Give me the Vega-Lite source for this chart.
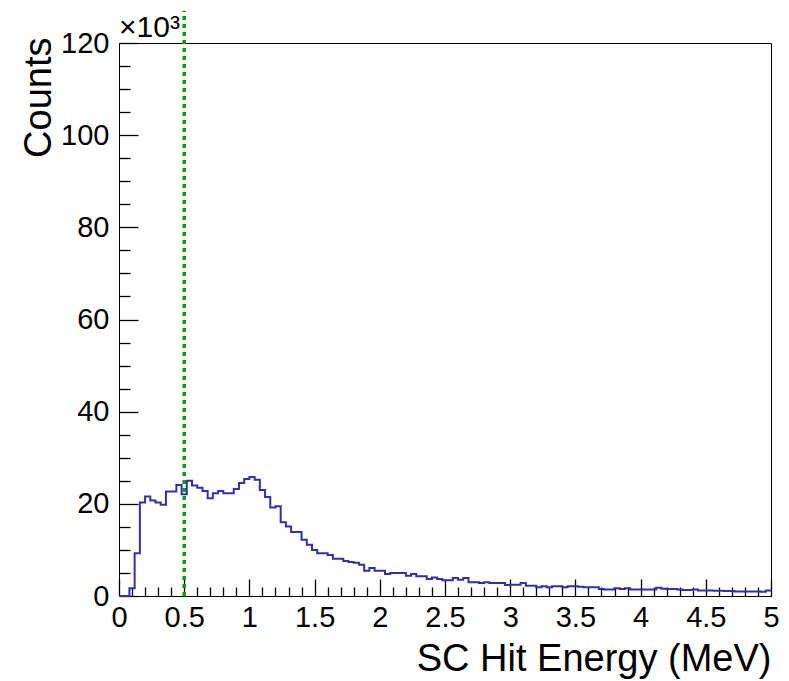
{
  "$schema": "https://vega.github.io/schema/vega-lite/v6.json",
  "width": 652,
  "height": 553,
  "autosize": {"type": "none"},
  "padding": {"left": 119, "top": 43, "right": 18, "bottom": 85},
  "background": "white",
  "config": {
    "view": {"stroke": "black", "strokeWidth": 1},
    "font": "Liberation Sans"
  },
  "resolve": {"axis": {"x": "independent", "y": "independent"}},
  "layer": [
    {
      "data": {"values": [
        {"e":0.00,"c":0},{"e":0.04,"c":0},{"e":0.08,"c":1.7},{"e":0.12,"c":9.3},{"e":0.16,"c":20.3},
        {"e":0.20,"c":21.6},{"e":0.24,"c":20.7},{"e":0.28,"c":20.3},{"e":0.32,"c":19.8},{"e":0.36,"c":22.7},
        {"e":0.40,"c":22.7},{"e":0.44,"c":24.1},{"e":0.48,"c":22.1},{"e":0.52,"c":25.0},{"e":0.56,"c":24.0},
        {"e":0.60,"c":23.5},{"e":0.64,"c":22.8},{"e":0.68,"c":21.2},{"e":0.72,"c":22.3},{"e":0.76,"c":22.8},
        {"e":0.80,"c":22.3},{"e":0.84,"c":22.3},{"e":0.88,"c":23.2},{"e":0.92,"c":24.5},{"e":0.96,"c":25.4},
        {"e":1.00,"c":25.8},{"e":1.04,"c":25.2},{"e":1.08,"c":23.0},{"e":1.12,"c":21.5},{"e":1.16,"c":19.2},
        {"e":1.20,"c":19.5},{"e":1.24,"c":16.0},{"e":1.28,"c":15.1},{"e":1.32,"c":13.9},{"e":1.36,"c":13.9},
        {"e":1.40,"c":12.2},{"e":1.44,"c":11.1},{"e":1.48,"c":10.0},{"e":1.52,"c":9.3},{"e":1.56,"c":9.3},
        {"e":1.60,"c":8.9},{"e":1.64,"c":8.1},{"e":1.68,"c":8.1},{"e":1.72,"c":7.6},{"e":1.76,"c":7.4},
        {"e":1.80,"c":7.2},{"e":1.84,"c":6.8},{"e":1.88,"c":5.5},{"e":1.92,"c":6.1},{"e":1.96,"c":5.5},
        {"e":2.00,"c":5.5},{"e":2.04,"c":4.8},{"e":2.08,"c":5.0},{"e":2.12,"c":5.0},{"e":2.16,"c":5.0},
        {"e":2.20,"c":4.4},{"e":2.24,"c":4.8},{"e":2.28,"c":4.3},{"e":2.32,"c":4.3},{"e":2.36,"c":3.7},
        {"e":2.40,"c":4.0},{"e":2.44,"c":3.7},{"e":2.48,"c":3.4},{"e":2.52,"c":3.4},{"e":2.56,"c":3.9},
        {"e":2.60,"c":3.5},{"e":2.64,"c":3.9},{"e":2.68,"c":3.0},{"e":2.72,"c":3.0},{"e":2.76,"c":2.8},
        {"e":2.80,"c":3.0},{"e":2.84,"c":2.8},{"e":2.88,"c":2.8},{"e":2.92,"c":2.8},{"e":2.96,"c":2.4},
        {"e":3.00,"c":2.45},{"e":3.04,"c":2.45},{"e":3.08,"c":2.8},{"e":3.12,"c":2.2},{"e":3.16,"c":2.2},
        {"e":3.20,"c":1.9},{"e":3.24,"c":2.1},{"e":3.28,"c":1.9},{"e":3.32,"c":2.1},{"e":3.36,"c":2.1},
        {"e":3.40,"c":1.9},{"e":3.44,"c":2.1},{"e":3.48,"c":2.1},{"e":3.52,"c":2.0},{"e":3.56,"c":1.9},
        {"e":3.60,"c":1.9},{"e":3.64,"c":1.9},{"e":3.68,"c":1.5},{"e":3.72,"c":1.4},{"e":3.76,"c":1.4},
        {"e":3.80,"c":1.7},{"e":3.84,"c":1.5},{"e":3.88,"c":1.7},{"e":3.92,"c":1.4},{"e":3.96,"c":1.4},
        {"e":4.00,"c":1.4},{"e":4.04,"c":1.4},{"e":4.08,"c":1.4},{"e":4.12,"c":1.8},{"e":4.16,"c":1.6},
        {"e":4.20,"c":1.5},{"e":4.24,"c":1.5},{"e":4.28,"c":1.4},{"e":4.32,"c":1.3},{"e":4.36,"c":1.3},
        {"e":4.40,"c":1.4},{"e":4.44,"c":1.2},{"e":4.48,"c":1.2},{"e":4.52,"c":1.2},{"e":4.56,"c":1.15},
        {"e":4.60,"c":1.15},{"e":4.64,"c":1.1},{"e":4.68,"c":1.1},{"e":4.72,"c":1.0},{"e":4.76,"c":1.0},
        {"e":4.80,"c":1.0},{"e":4.84,"c":1.0},{"e":4.88,"c":1.0},{"e":4.92,"c":0.9},{"e":4.96,"c":1.2},
        {"e":5.00,"c":1.2}
      ]},
      "mark": {"type": "line", "interpolate": "step-after", "color": "#3030ad", "strokeWidth": 2},
      "encoding": {
        "x": {
          "field": "e", "type": "quantitative",
          "scale": {"domain": [0, 5], "nice": false, "zero": false},
          "axis": {
            "orient": "bottom",
            "values": [0,0.5,1,1.5,2,2.5,3,3.5,4,4.5,5],
            "format": "~g",
            "tickSize": -17,
            "tickColor": "black", "tickWidth": 1.3,
            "domainColor": "black", "domainWidth": 1,
            "grid": false,
            "labelFlush": false, "labelOverlap": false, "labelBound": false,
            "labelFont": "Liberation Sans", "labelFontSize": 29, "labelColor": "black",
            "labelPadding": 24,
            "title": "SC Hit Energy (MeV)",
            "titleFont": "Liberation Sans", "titleFontSize": 38, "titleFontWeight": "normal", "titleColor": "black",
            "titleX": 652, "titleY": 74, "titleAlign": "right", "titleBaseline": "alphabetic", "titleAnchor": null
          }
        },
        "y": {
          "field": "c", "type": "quantitative",
          "scale": {"domain": [0, 120], "nice": false, "zero": true},
          "axis": {
            "orient": "left",
            "values": [0,20,40,60,80,100,120],
            "format": "d",
            "tickSize": -19,
            "tickColor": "black", "tickWidth": 1.3,
            "domainColor": "black", "domainWidth": 1,
            "grid": false,
            "labelFlush": false, "labelOverlap": false, "labelBound": false,
            "labelFont": "Liberation Sans", "labelFontSize": 29, "labelColor": "black",
            "labelPadding": 29,
            "title": "Counts",
            "titleFont": "Liberation Sans", "titleFontSize": 38, "titleFontWeight": "normal", "titleColor": "black",
            "titleAngle": -90, "titleX": -69, "titleY": -6, "titleAlign": "right", "titleBaseline": "alphabetic", "titleAnchor": null
          }
        }
      }
    },
    {
      "data": {"values": [{}]},
      "mark": {"type": "rule", "color": "#00a000", "strokeDash": [4, 4], "strokeWidth": 3.5},
      "encoding": {
        "x": {
          "datum": 0.5, "type": "quantitative",
          "axis": {
            "orient": "bottom",
            "values": [0.1,0.2,0.3,0.4,0.6,0.7,0.8,0.9,1.1,1.2,1.3,1.4,1.6,1.7,1.8,1.9,2.1,2.2,2.3,2.4,2.6,2.7,2.8,2.9,3.1,3.2,3.3,3.4,3.6,3.7,3.8,3.9,4.1,4.2,4.3,4.4,4.6,4.7,4.8,4.9],
            "labels": false, "domain": false, "grid": false, "title": null,
            "tickSize": -9, "tickColor": "black", "tickWidth": 1.3
          }
        },
        "y": {
          "datum": 0, "type": "quantitative",
          "axis": {
            "orient": "left",
            "values": [5,10,15,25,30,35,45,50,55,65,70,75,85,90,95,105,110,115],
            "labels": false, "domain": false, "grid": false, "title": null,
            "tickSize": -11, "tickColor": "black", "tickWidth": 1.3
          }
        },
        "y2": {"datum": 127}
      }
    },
    {
      "data": {"values": [{}]},
      "mark": {"type": "text", "align": "left", "baseline": "alphabetic", "dy": -6, "fontSize": 30, "font": "Liberation Sans", "color": "black"},
      "encoding": {
        "x": {"datum": 0, "type": "quantitative", "axis": null},
        "y": {"datum": 120, "type": "quantitative", "axis": null},
        "text": {"value": "×10³"}
      }
    }
  ]
}
